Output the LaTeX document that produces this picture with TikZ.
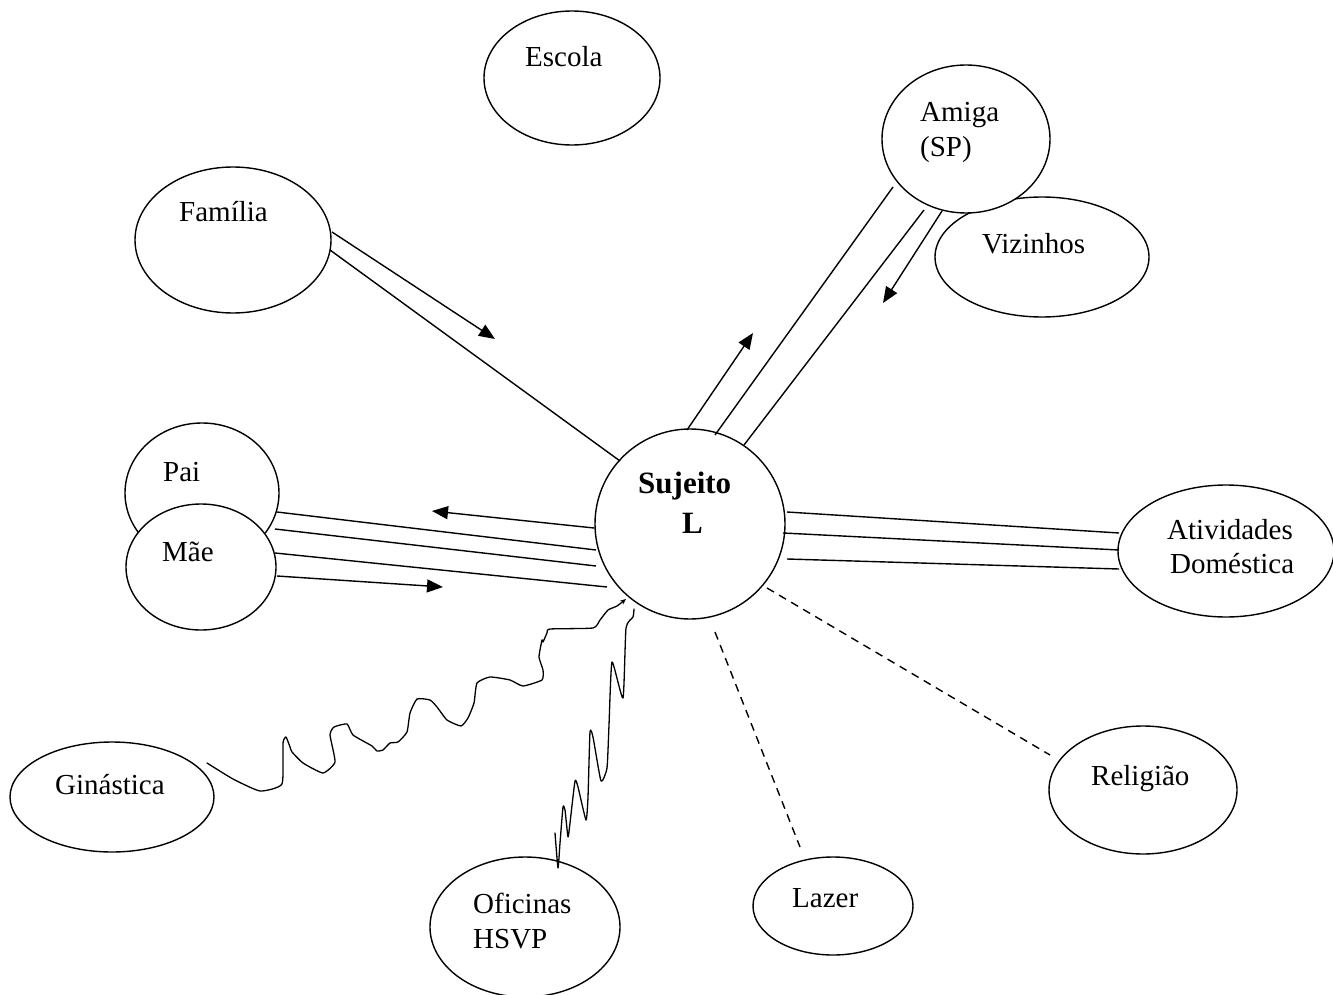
\documentclass[tikz,border=0pt]{standalone}
\usepackage{fontspec}
\setmainfont{Liberation Serif}
\usetikzlibrary{shapes.geometric,arrows.meta}
\begin{document}
\begin{tikzpicture}[x=1pt,y=-1pt,
  oval/.style={draw, ellipse, line width=1.4pt, fill=white, inner sep=0pt},
  ln/.style={line width=1.4pt},
  arr/.style={line width=1.4pt, -{Triangle[length=16pt,width=13pt]}},
  dsh/.style={line width=1.4pt, dash pattern=on 8pt off 6pt},
  wavy/.style={line width=1.3pt, line join=round, line cap=round},
  lbl/.style={font=\fontsize{29}{34}\selectfont, inner sep=0pt, anchor=base west},
  blbl/.style={font=\fontsize{31}{36}\selectfont\bfseries, inner sep=0pt, anchor=base west}]
\useasboundingbox (0,0) rectangle (1333,995);
\fill[white] (0,0) rectangle (1333,995);

% ellipses
\node[oval, minimum width=176pt, minimum height=134pt] (escola) at (572,78) {};
\node[oval, minimum width=214pt, minimum height=120pt] (viz) at (1042,257) {};
\node[oval, minimum width=168pt, minimum height=148pt] (amiga) at (966,139) {};
\node[oval, minimum width=196pt, minimum height=146pt] (fam) at (233,240) {};
\node[oval, minimum width=154pt, minimum height=140pt] (pai) at (202,493) {};
\node[oval, minimum width=150pt, minimum height=126pt] (mae) at (201,567) {};
\node[draw, circle, line width=1.4pt, fill=white, inner sep=0pt, minimum size=190pt] (suj) at (690,524) {};
\node[oval, minimum width=216pt, minimum height=132pt] (ativ) at (1226,551) {};
\node[oval, minimum width=188pt, minimum height=128pt] (rel) at (1143,790) {};
\node[oval, minimum width=160pt, minimum height=98pt] (lazer) at (833,906) {};
\node[oval, minimum width=190pt, minimum height=140pt] (ofic) at (525,927) {};
\node[oval, minimum width=204pt, minimum height=110pt] (gin) at (112,797) {};

% labels
\node[lbl] (escolaT) at (525,67) {Escola};
\node[lbl] (amigaT1) at (920,122) {Amiga};
\node[lbl] (amigaT2) at (920,157) {(SP)};
\node[lbl] (vizT) at (982,253) {Vizinhos};
\node[lbl] (famT) at (179,222) {Família};
\node[lbl] (paiT) at (163,481) {Pai};
\node[lbl] (maeT) at (162,561) {Mãe};
\node[blbl] (sujT1) at (638,493) {Sujeito};
\node[blbl] (sujT2) at (682,533) {L};
\node[lbl] (ativT1) at (1167,539) {Atividades};
\node[lbl] (ativT2) at (1170,573) {Doméstica};
\node[lbl] (relT) at (1091,785) {Religião};
\node[lbl] (lazerT) at (792,907) {Lazer};
\node[lbl] (oficT1) at (473,913) {Oficinas};
\node[lbl] (oficT2) at (473,948) {HSVP};
\node[lbl] (ginT) at (55,794) {Ginástica};

% connector end points
\coordinate (fa1) at (332,232); \coordinate (fa1e) at (495,339);
\coordinate (fa2) at (330,250); \coordinate (fa2e) at (620,461);
\coordinate (am0) at (687,430); \coordinate (am0e) at (753,333);
\coordinate (am1) at (893,187); \coordinate (am1e) at (715,435);
\coordinate (am2) at (924,210); \coordinate (am2e) at (744,445);
\coordinate (am3) at (942,211); \coordinate (am3e) at (883,303);
\coordinate (pm0) at (594,528); \coordinate (pm0e) at (432,511);
\coordinate (pm1) at (277,512); \coordinate (pm1e) at (596,550);
\coordinate (pm2) at (275,529); \coordinate (pm2e) at (596,566);
\coordinate (pm3) at (275,553); \coordinate (pm3e) at (607,587);
\coordinate (pm4) at (277,576); \coordinate (pm4e) at (443,587);
\coordinate (at1) at (787,512); \coordinate (at1e) at (1119,533);
\coordinate (at2) at (783,533); \coordinate (at2e) at (1119,550);
\coordinate (at3) at (787,559); \coordinate (at3e) at (1119,569);
\coordinate (re1) at (767,588); \coordinate (re1e) at (1050,755);
\coordinate (la1) at (715,632); \coordinate (la1e) at (800,847);

% Família
\draw[arr] (fa1) -- (fa1e);
\draw[ln] (fa2) -- (fa2e);
% Amiga
\draw[arr] (am0) -- (am0e);
\draw[ln] (am1) -- (am1e);
\draw[ln] (am2) -- (am2e);
\draw[arr] (am3) -- (am3e);
% Pai / Mãe
\draw[arr] (pm0) -- (pm0e);
\draw[ln] (pm1) -- (pm1e);
\draw[ln] (pm2) -- (pm2e);
\draw[ln] (pm3) -- (pm3e);
\draw[arr] (pm4) -- (pm4e);
% Atividades
\draw[ln] (at1) -- (at1e);
\draw[ln] (at2) -- (at2e);
\draw[ln] (at3) -- (at3e);
% dashed
\draw[dsh] (re1) -- (re1e);
\draw[dsh] (la1) -- (la1e);

% wavy: Ginástica
\draw[wavy, -{Stealth[length=6pt,width=5pt]}] plot[smooth, tension=0.3] coordinates {
(207,763) (233,779) (260,791) (282,784) (283,743) (286,737) (290,747) (292,752)
(303,763) (323,773) (335,762) (330,735) (334,727) (347,724) (353,735) (372,746)
(377,751) (383,750) (390,743) (398,742) (407,732) (410,713) (417,699) (430,700)
(437,707) (447,720) (461,726) (468,718) (474,703) (477,683) (490,677) (510,680)
(523,686) (542,680) (543,670) (539,657) (542,640) (543,642) (547,633) (550,629)
(593,628) (600,620) (608,610) (617,606) (626,599)};
% wavy: Oficinas
\draw[wavy] plot[smooth, tension=0.3] coordinates {
(555,833) (558,868) (560,843) (563,807) (565,810) (568,837) (570,823) (575,781)
(578,787) (586,820) (588,797) (590,732) (593,737) (601,781) (607,768) (609,725)
(612,662) (623,698) (626,628) (633,617) (634,609)};
\end{tikzpicture}
\end{document}
